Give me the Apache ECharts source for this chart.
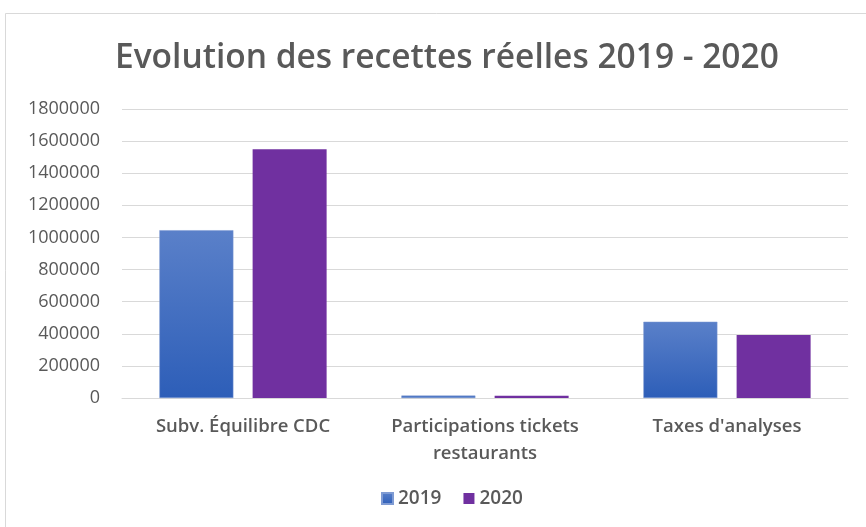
<!DOCTYPE html>
<html><head><meta charset="utf-8">
<script src="https://cdn.jsdelivr.net/npm/echarts@6/dist/echarts.min.js"></script>
<style>html,body{margin:0;padding:0;background:#fff}#c{width:866px;height:527px}</style>
</head><body><div id="c"></div>
<script>
const categories = ['Subv. Équilibre CDC', 'Participations tickets\nrestaurants', "Taxes d'analyses"];
const values2019 = [1045000, 15000, 475000];
const values2020 = [1550000, 14000, 392000];
const yTicks = [0, 200000, 400000, 600000, 800000, 1000000, 1200000, 1400000, 1600000, 1800000];

const chart = echarts.init(document.getElementById('c'));
const font = 'Open Sans';
chart.setOption({
  animation: false,
  backgroundColor: '#fff',
  graphic: [{type:'rect', shape:{x:5.5,y:13.5,width:880,height:530}, style:{fill:'none', stroke:'#d9d9d9', lineWidth:1}}],
  title: {text: 'Evolution des recettes réelles 2019 - 2020', left: 110, top: 36,
    textStyle: {fontFamily: font, fontSize: 33.5, fontWeight: 600, color: '#595959'}},
  legend: {bottom: 14, left: 376, itemWidth: 11, itemHeight: 11, itemGap: 22, icon: 'rect',
    textStyle: {fontFamily: font, fontSize: 19, fontWeight: 600, color: '#595959'}},
  grid: {left: 122, right: 18, top: 109, bottom: 129, containLabel: false},
  xAxis: {type: 'category', data: categories,
    axisLine: {lineStyle: {color: '#d9d9d9'}}, axisTick: {show: false},
    axisLabel: {interval: 0, hideOverlap: false, fontFamily: font, fontSize: 18.5, fontWeight: 600, color: '#595959', margin: 15, lineHeight: 27}},
  yAxis: {type: 'value', min: yTicks[0], max: yTicks[yTicks.length-1], interval: 200000,
    axisLine: {show: false}, axisTick: {show: false},
    splitLine: {lineStyle: {color: '#d9d9d9'}},
    axisLabel: {fontFamily: font, fontSize: 18, color: '#595959', margin: 22, formatter: v => String(v)}},
  series: [
    {name: '2019', type: 'bar', data: values2019, barWidth: 74, barGap: '26%',
      itemStyle: {color: new echarts.graphic.LinearGradient(0,0,0,1,[{offset:0,color:'#5a80c9'},{offset:1,color:'#2d5eb8'}]),
        borderColor: '#7f9bd3', borderWidth: 0.5}},
    {name: '2020', type: 'bar', data: values2020, barWidth: 74,
      itemStyle: {color: '#7030a0'}}
  ]
});
</script></body></html>
